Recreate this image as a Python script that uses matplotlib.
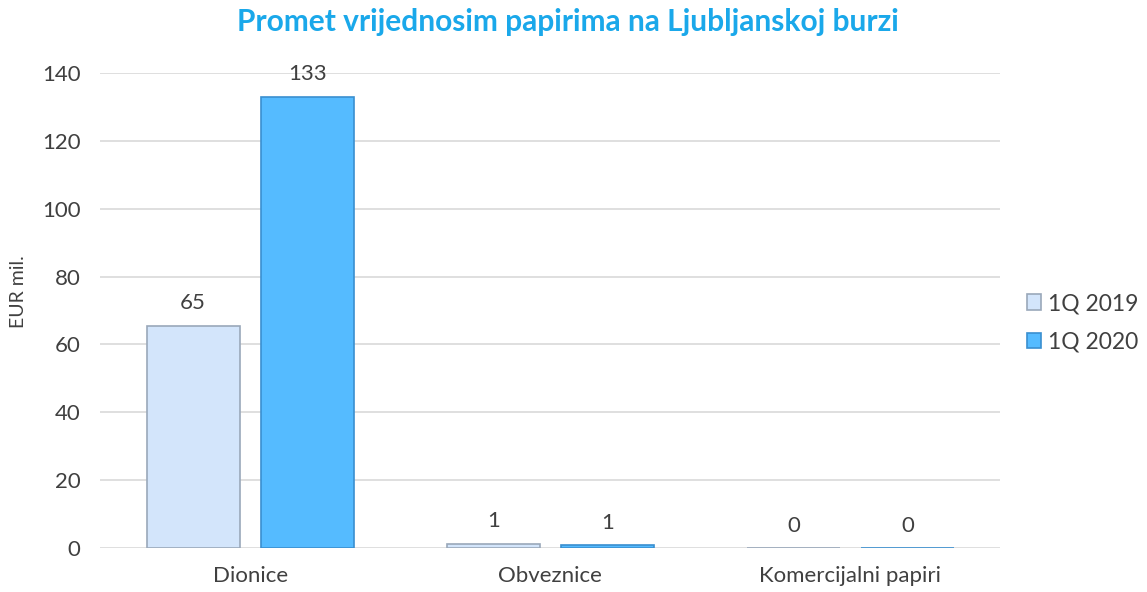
import numpy as np
import matplotlib.pyplot as plt

plt.rcParams['font.family'] = ['Lato', 'DejaVu Sans']

categories = ['Dionice', 'Obveznice', 'Komercijalni papiri']
series_names = ['1Q 2019', '1Q 2020']
values_2019 = [65.5, 1.2, 0.0]
values_2020 = [133.0, 0.8, 0.0]
labels_2019 = ['65', '1', '0']
labels_2020 = ['133', '1', '0']

fig = plt.figure(figsize=(11.47, 5.92), dpi=100)
ax = fig.add_axes([0.0872, 0.0743, 0.785, 0.8024])

x = np.arange(len(categories))
w = 0.31
off = 0.19
b1 = ax.bar(x - off, values_2019, w, color='#D3E5FB', edgecolor='#9AA8BA', linewidth=1.2,
            label=series_names[0], zorder=3)
b2 = ax.bar(x + off, values_2020, w, color='#55BBFF', edgecolor='#3A8FD0', linewidth=1.2,
            label=series_names[1], zorder=3)

for bars, labs in ((b1, labels_2019), (b2, labels_2020)):
    for r, t in zip(bars, labs):
        ax.annotate(t, (r.get_x() + r.get_width() / 2, r.get_height()),
                    xytext=(0, 9), textcoords='offset points', ha='center', va='bottom',
                    fontsize=16, color='#404040')

ax.set_xlim(-0.5, 2.5)
ax.set_ylim(0, 140)
ax.set_yticks(range(0, 141, 20))
ax.set_xticks(x)
ax.set_xticklabels(categories)
ax.tick_params(length=0, labelsize=16, colors='#404040')
ax.tick_params(axis='x', pad=13)
ax.tick_params(axis='y', pad=14)
ax.grid(axis='y', color='#D9D9D9', linewidth=1.2, zorder=0)
for s in ax.spines.values():
    s.set_visible(False)
ax.set_ylabel('EUR mil.', fontsize=14, color='#404040')
ax.yaxis.set_label_coords(-0.081, 0.54)

fig.text(0.495, 0.963, 'Promet vrijednosim papirima na Ljubljanskoj burzi', ha='center', va='center',
         fontsize=21.5, fontweight='bold', color='#1AA8EA')

fig.legend(handles=[b1, b2], loc='center left', bbox_to_anchor=(0.877, 0.455), frameon=False,
           fontsize=16.5, handlelength=0.65, handleheight=0.65, handletextpad=0.3, labelspacing=0.75,
           labelcolor='#404040')

fig.savefig('out.png', dpi=100)
